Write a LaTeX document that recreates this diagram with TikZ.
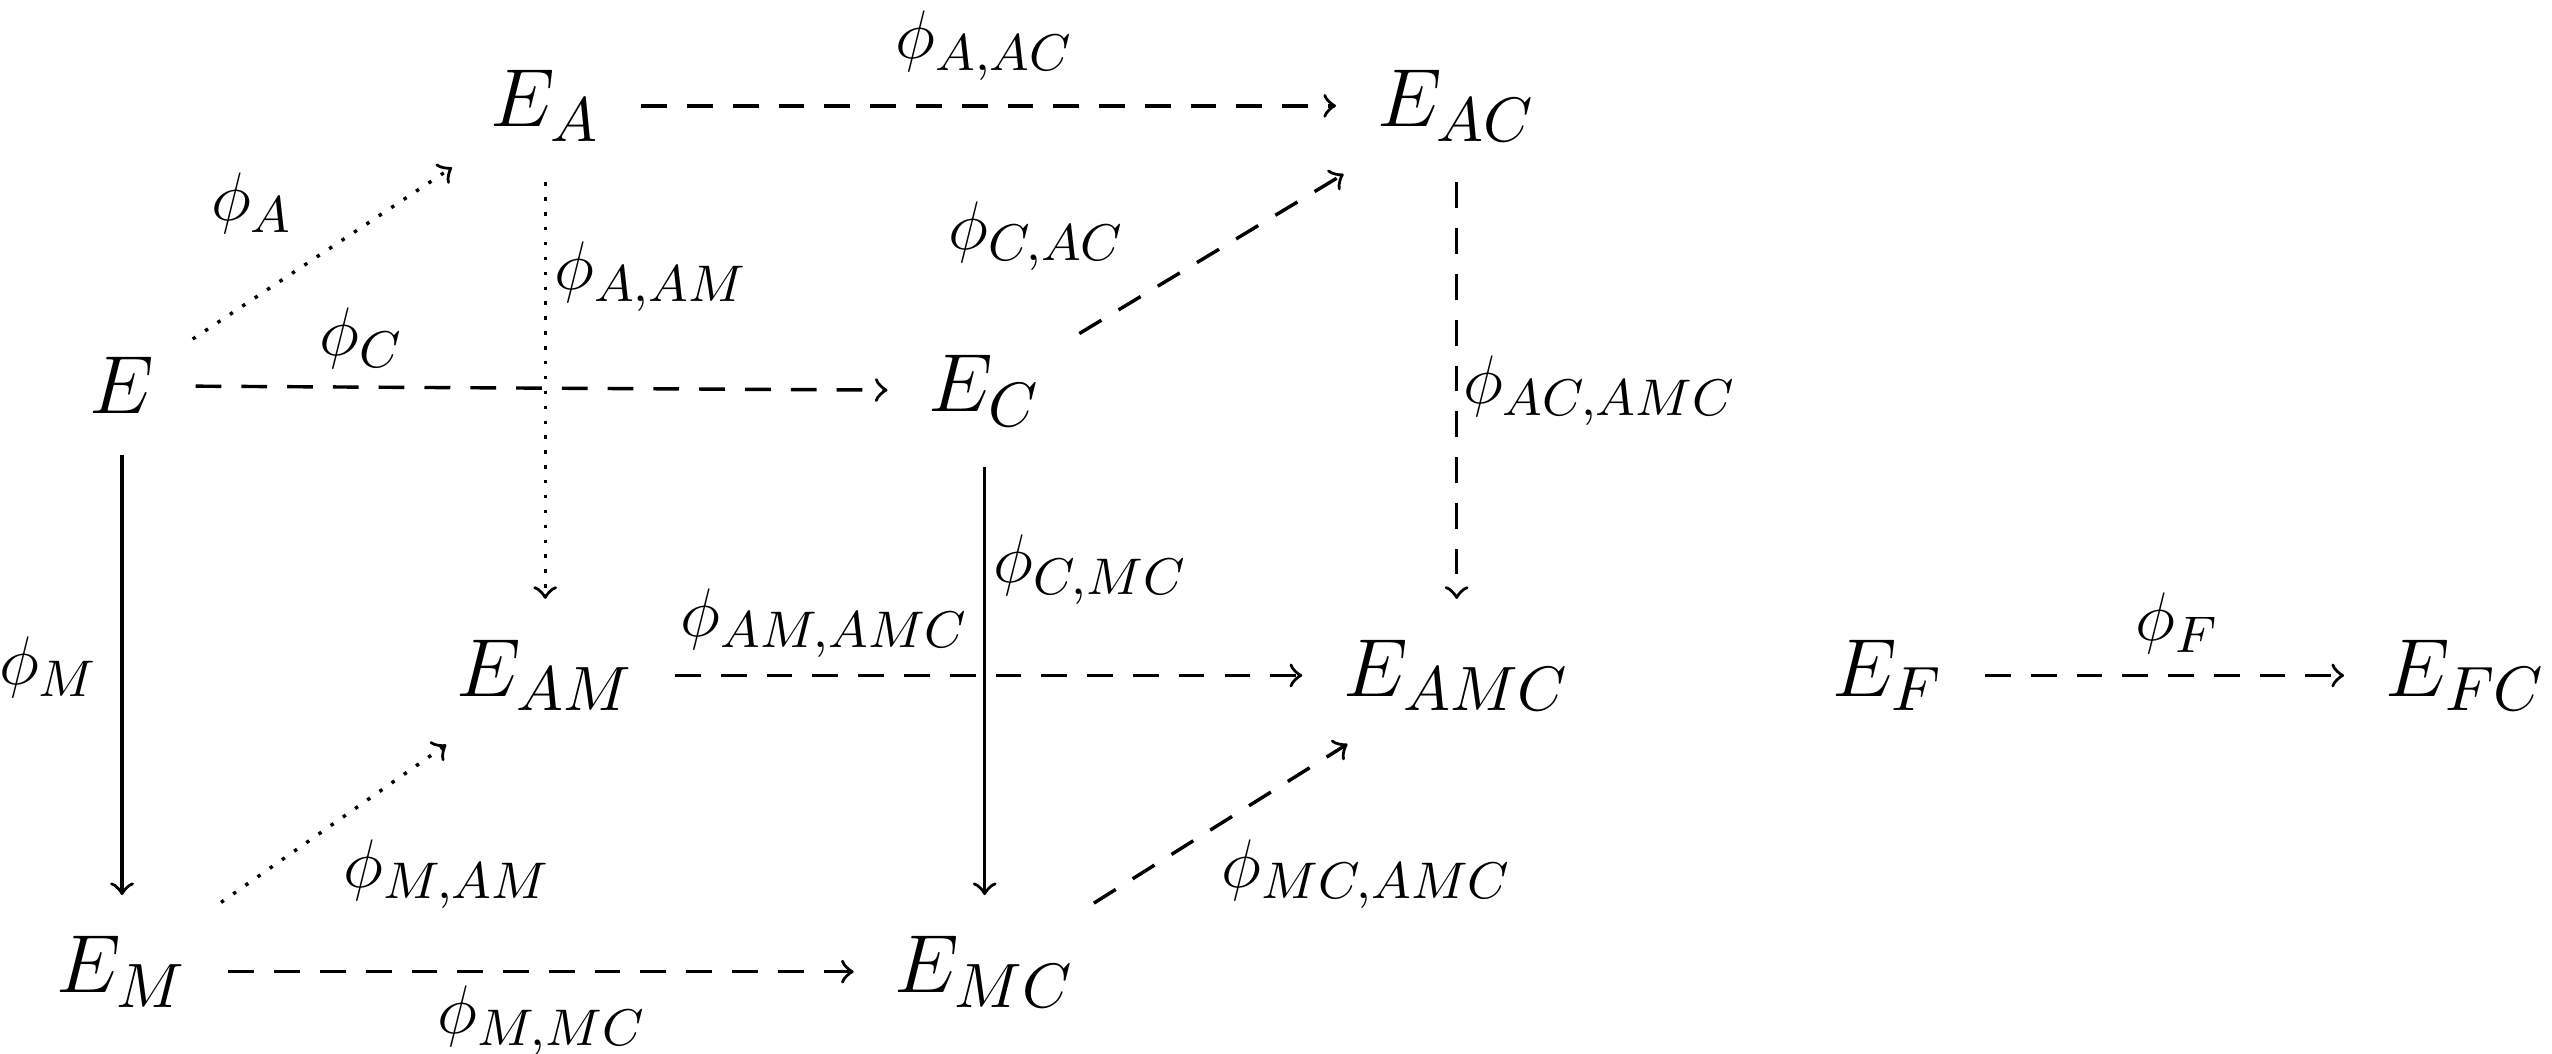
\documentclass[tikz,border=0pt]{standalone}
\tikzset{
 obj/.style={inner sep=4pt,font=\fontsize{15}{18}\selectfont},
 lab/.style={inner sep=0pt,font=\fontsize{13}{16}\selectfont},
 arr/.style={->,line width=0.6pt,shorten >=3pt,shorten <=3pt},
 da/.style={arr,dash pattern=on 4.5pt off 3.5pt},
 dt/.style={arr,dotted}
}
\begin{document}
\begin{tikzpicture}[x=0.01cm,y=-0.01cm]
\useasboundingbox (0,0) rectangle (1568,647);
\node[obj] (E) at (75,237) {$E$};
\node[obj] (EA) at (335,65) {$E_A$};
\node[obj] (EAC) at (895,65) {$E_{AC}$};
\node[obj] (EC) at (605,240) {$E_C$};
\node[obj] (EAM) at (335,415) {$E_{AM}$};
\node[obj] (EAMC) at (895,415) {$E_{AMC}$};
\node[obj] (EM) at (75,597) {$E_M$};
\node[obj] (EMC) at (605,597) {$E_{MC}$};
\node[obj] (EF) at (1160,415) {$E_F$};
\node[obj] (EFC) at (1515,415) {$E_{FC}$};
\draw[dt] (E) -- (EA);
\draw[da] (E) -- (EC);
\draw[da] (EA) -- (EAC);
\draw[dt] (EA) -- (EAM);
\draw[da] (EC) -- (EAC);
\draw[da] (EAC) -- (EAMC);
\draw[arr] (E) -- (EM);
\draw[arr] (EC) -- (EMC);
\draw[da] (EAM) -- (EAMC);
\draw[dt] (EM) -- (EAM);
\draw[da] (EMC) -- (EAMC);
\draw[da] (EM) -- (EMC);
\draw[da] (EF) -- (EFC);
\node[lab] (l1) at (155,125) {$\phi_A$};
\node[lab] (l2) at (222,208) {$\phi_C$};
\node[lab] (l3) at (400,170) {$\phi_{A,AM}$};
\node[lab] (l4) at (637,145) {$\phi_{C,AC}$};
\node[lab] (l5) at (605,28) {$\phi_{A,AC}$};
\node[lab] (l6) at (983,240) {$\phi_{AC,AMC}$};
\node[lab] (l7) at (30,410) {$\phi_M$};
\node[lab] (l8) at (670,350) {$\phi_{C,MC}$};
\node[lab] (l9) at (507,383) {$\phi_{AM,AMC}$};
\node[lab] (l10) at (275,537) {$\phi_{M,AM}$};
\node[lab] (l11) at (840,537) {$\phi_{MC,AMC}$};
\node[lab] (l12) at (333,627) {$\phi_{M,MC}$};
\node[lab] (l13) at (1338,383) {$\phi_F$};
\end{tikzpicture}
\end{document}
